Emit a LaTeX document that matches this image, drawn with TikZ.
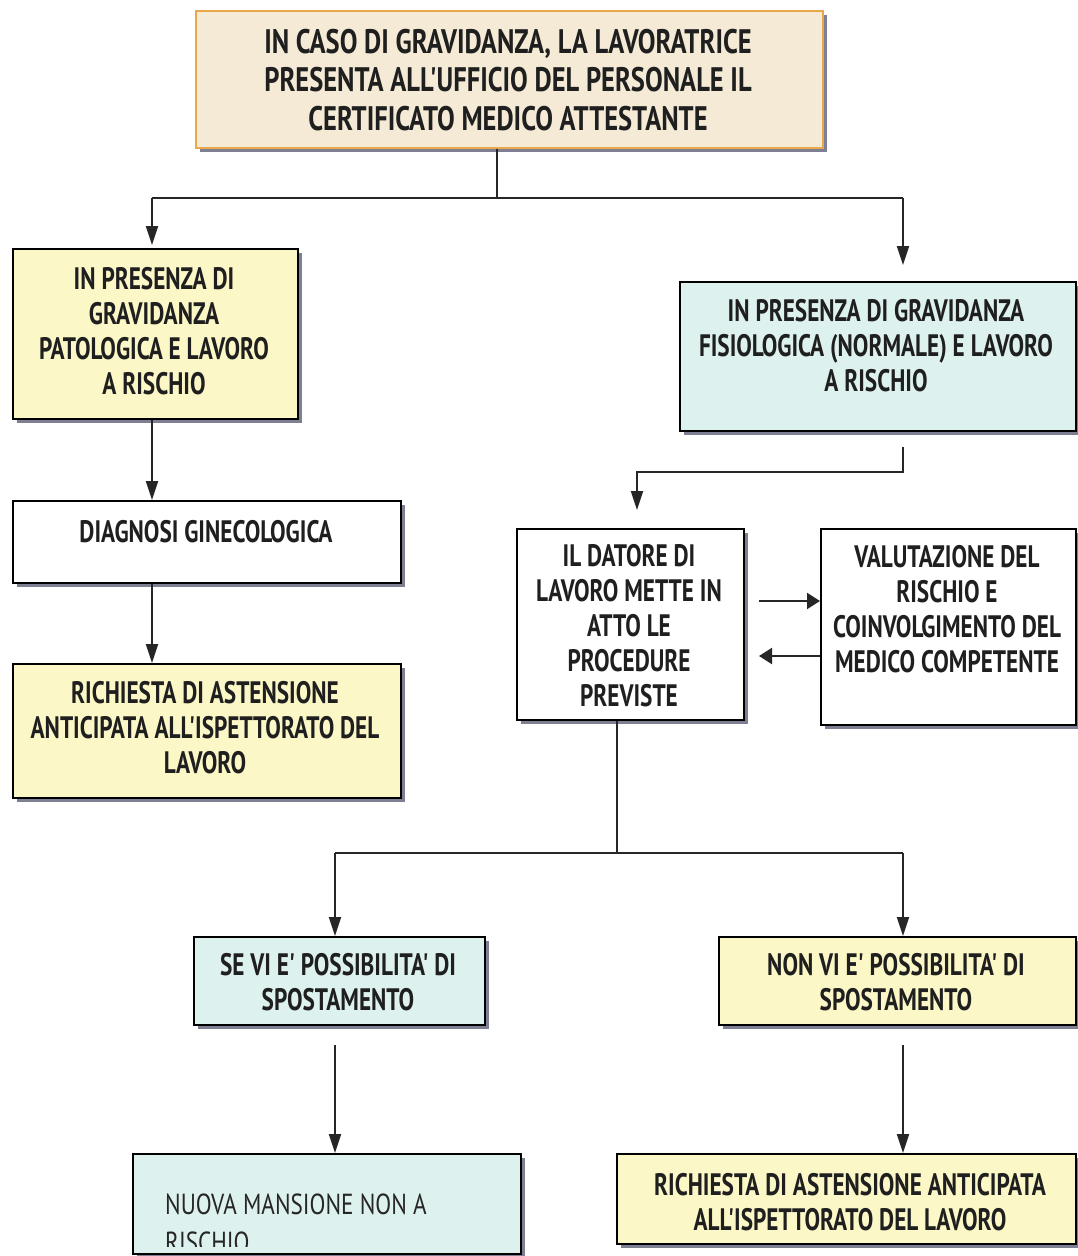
\documentclass[tikz,border=0pt]{standalone}
\usepackage{fontspec}
\newfontfamily\condf[FakeStretch=0.75]{PT Sans}
\newfontfamily\condt[FakeStretch=0.78]{PT Sans}
\newfontfamily\condn[FakeStretch=0.80]{PT Sans}
\usetikzlibrary{arrows.meta,shadows}
\definecolor{yellowc}{HTML}{FBF7C6}
\definecolor{cyanc}{HTML}{DDF2EE}
\definecolor{topfill}{HTML}{F4EAD5}
\definecolor{toporange}{HTML}{E9A94A}
\definecolor{shadowc}{HTML}{7E7F92}
\definecolor{textc}{HTML}{1F1F1F}
\definecolor{linec}{HTML}{262626}
\begin{document}
\begin{tikzpicture}[x=1pt,y=-1pt,
  box/.style={draw=black, line width=1.5pt, anchor=north west, inner sep=0pt,
    drop shadow={shadow xshift=4pt,shadow yshift=-4pt,fill=shadowc,opacity=1}},
  txt/.style={align=center, font=\condf\bfseries\fontsize{31}{35}\selectfont, inner sep=0pt, text=textc},
  toptxt/.style={align=center, font=\condt\bfseries\fontsize{34}{38.5}\selectfont, inner sep=0pt, text=textc},
  conn/.style={line width=2pt, draw=linec},
  arr/.style={conn, -{Triangle[length=19pt,width=12pt]}},
  harr/.style={conn, -{Triangle[length=13pt,width=16pt]}},
]
\useasboundingbox (0,0) rectangle (1078,1256);
\clip (0,0) rectangle (1078,1256);
\fill[white] (0,0) rectangle (1078,1256);

% boxes
\node[box, draw=toporange, fill=topfill, minimum width=627pt, minimum height=137pt] (top) at (195,10) {};
\node[box, fill=yellowc, minimum width=285pt, minimum height=170pt] (p1) at (12,248) {};
\node[box, fill=white, minimum width=388pt, minimum height=82pt] (diag) at (12,500) {};
\node[box, fill=yellowc, minimum width=388pt, minimum height=134pt] (ric1) at (12,663) {};
\node[box, fill=cyanc, minimum width=396pt, minimum height=149pt] (fis) at (679,281) {};
\node[box, fill=white, minimum width=227pt, minimum height=191pt] (dat) at (516,528) {};
\node[box, fill=white, minimum width=255pt, minimum height=196pt] (val) at (820,528) {};
\node[box, fill=cyanc, minimum width=291pt, minimum height=88pt] (se) at (193,936) {};
\node[box, fill=yellowc, minimum width=357pt, minimum height=88pt] (non) at (718,936) {};
\node[box, fill=cyanc, minimum width=388pt, minimum height=100pt] (nuova) at (132,1153) {};
\node[box, fill=yellowc, minimum width=459pt, minimum height=90pt] (ric2) at (616,1153) {};

% texts
\node[toptxt] (ttop) at (508,80) {IN CASO DI GRAVIDANZA, LA LAVORATRICE\\PRESENTA ALL'UFFICIO DEL PERSONALE IL\\CERTIFICATO MEDICO ATTESTANTE};
\node[txt] (tp1) at (154,331) {IN PRESENZA DI\\GRAVIDANZA\\PATOLOGICA E LAVORO\\A RISCHIO};
\node[txt] (tdiag) at (206,532) {DIAGNOSI GINECOLOGICA};
\node[txt] (tric1) at (205,728) {RICHIESTA DI ASTENSIONE\\ANTICIPATA ALL'ISPETTORATO DEL\\LAVORO};
\node[txt] (tfis) at (876,346) {IN PRESENZA DI GRAVIDANZA\\FISIOLOGICA (NORMALE) E LAVORO\\A RISCHIO};
\node[txt] (tdat) at (629,626) {IL DATORE DI\\LAVORO METTE IN\\ATTO LE\\PROCEDURE\\PREVISTE};
\node[txt] (tval) at (947,609) {VALUTAZIONE DEL\\RISCHIO E\\COINVOLGIMENTO DEL\\MEDICO COMPETENTE};
\node[txt] (tse) at (338,982) {SE VI E' POSSIBILITA' DI\\SPOSTAMENTO};
\node[txt] (tnon) at (896,982) {NON VI E' POSSIBILITA' DI\\SPOSTAMENTO};
\node[txt] (tric2) at (850,1202) {RICHIESTA DI ASTENSIONE ANTICIPATA\\ALL'ISPETTORATO DEL LAVORO};
\begin{scope}
  \clip (140,1160) rectangle (515,1246);
  \node[txt, align=left, anchor=west, font=\condn\fontsize{29}{38}\selectfont, text=black!85] (tnuova) at (165,1223) {NUOVA MANSIONE NON A\\RISCHIO};
\end{scope}

% connectors
\coordinate (j1) at (497,198);
\coordinate (jl) at (152,198);
\coordinate (jr) at (903,198);
\draw[conn] (j1 |- top.south) -- (j1);
\draw[conn] (jl) -- (jr);
\draw[arr] (jl) -- ([yshift=3pt]jl |- p1.north);
\draw[arr] (jr) -- ([yshift=16pt]jr |- fis.north);
\draw[arr] (jl |- p1.south) -- (jl |- diag.north);
\draw[arr] (jl |- diag.south) -- (jl |- ric1.north);

\coordinate (k1) at (903,472);
\coordinate (k2) at (637,472);
\draw[arr] ([yshift=-15pt]k1 |- fis.south) -- (k1) -- (k2) -- ([yshift=18pt]k2 |- dat.north);

\coordinate (ha) at (759,601);
\coordinate (hb) at (759,656);
\draw[harr] (ha) -- (val.west |- ha);
\draw[harr] (val.west |- hb) -- (hb);

\coordinate (m) at (617,853);
\coordinate (ml) at (335,853);
\coordinate (mr) at (903,853);
\draw[conn] (m |- dat.south) -- (m);
\draw[conn] (ml) -- (mr);
\draw[arr] (ml) -- (ml |- se.north);
\draw[arr] (mr) -- (mr |- non.north);
\draw[arr] ([yshift=-19pt]ml |- se.south) -- (ml |- nuova.north);
\draw[arr] ([yshift=-19pt]mr |- non.south) -- (mr |- ric2.north);
\end{tikzpicture}
\end{document}
